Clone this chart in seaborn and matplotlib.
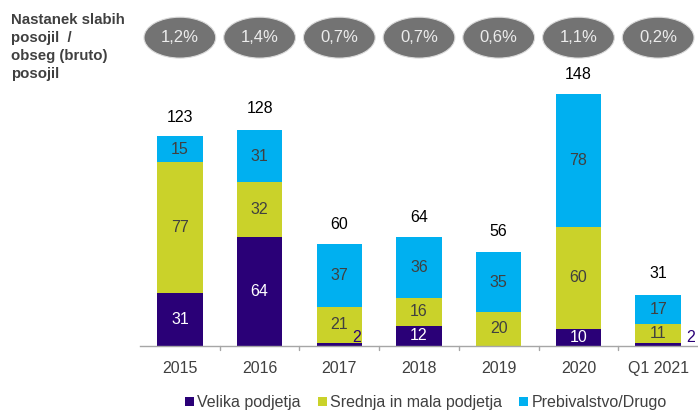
import numpy as np
import pandas as pd
import matplotlib
matplotlib.use("Agg")
import matplotlib.pyplot as plt
import seaborn as sns
from matplotlib.patches import Ellipse, Patch

# ── Data ──────────────────────────────────────────────────────────────────
periods = ["2015", "2016", "2017", "2018", "2019", "2020", "Q1 2021"]
velika = [31, 64, 2, 12, 0, 10, 2]
srednja = [77, 32, 21, 16, 20, 60, 11]
prebivalstvo = [15, 31, 37, 36, 35, 78, 17]
totals = [123, 128, 60, 64, 56, 148, 31]
ratios = ["1,2%", "1,4%", "0,7%", "0,7%", "0,6%", "1,1%", "0,2%"]

series_names = ["Velika podjetja", "Srednja in mala podjetja", "Prebivalstvo/Drugo"]
colors = ["#2a0077", "#cad22a", "#00b0f0"]

sns.set_theme(style="white")
plt.rcParams["font.family"] = ["Liberation Sans", "DejaVu Sans"]

df = pd.DataFrame({
    "period": periods,
    series_names[0]: velika,
    series_names[1]: srednja,
    series_names[2]: prebivalstvo,
})

fig = plt.figure(figsize=(6.98, 4.13), dpi=100)
ax = fig.add_axes([0.2006, 0.1622, 0.7994, 0.6683])

# stacked bars via seaborn, layer by layer (cumulative heights drawn back to front)
cum = df[series_names].cumsum(axis=1)
for name, col in reversed(list(zip(series_names, colors))):
    sns.barplot(x=df["period"], y=cum[name], color=col, width=0.57,
                saturation=1, ax=ax, edgecolor="none")

x = np.arange(len(periods))
bottoms = np.zeros(len(periods))
for i, name in enumerate(series_names):
    vals = df[name].values
    for j, v in enumerate(vals):
        if v >= 5:
            tc = "white" if i == 0 else "#404040"
            ax.text(x[j], bottoms[j] + v / 2, str(v), ha="center", va="center",
                    fontsize=11.5, color=tc)
    bottoms += vals

# small values next to the bars
ax.text(x[2] + 0.22, 5, "2", ha="center", va="center", fontsize=11.5, color="#2a0077")
ax.text(x[6] + 0.41, 5, "2", ha="center", va="center", fontsize=11.5, color="#2a0077")

# totals
for j, t in enumerate(totals):
    ax.text(x[j], t + 7, str(t), ha="center", va="bottom", fontsize=11.5, color="black")

# ratio ellipses above the plot
for j, r in enumerate(ratios):
    e = Ellipse((x[j], 181), 0.9, 24, facecolor="#737373", edgecolor="#d9d9d9",
                linewidth=0.8, clip_on=False, zorder=5)
    ax.add_patch(e)
    ax.text(x[j], 181, r, ha="center", va="center", fontsize=12,
            color="#ececec", zorder=6, clip_on=False)

fig.text(0.016, 0.968, "Nastanek slabih\nposojil  /\nobseg (bruto)\nposojil",
         ha="left", va="top", fontsize=10.8, fontweight="bold", color="#404040",
         linespacing=1.36)

ax.set_xlim(-0.5, 6.5)
ax.set_ylim(0, 162)
ax.set_xlabel("")
ax.set_ylabel("")
ax.set_yticks([])
for s in ["top", "right", "left"]:
    ax.spines[s].set_visible(False)
ax.spines["bottom"].set_color("#a6a6a6")
ax.spines["bottom"].set_linewidth(1)
ax.set_xticks(x)
ax.set_xticklabels(periods, fontsize=11.5, color="#404040")
ax.tick_params(axis="x", length=0, pad=11)
# tick marks between categories
for b in np.arange(0.5, 6.5, 1):
    ax.plot([b, b], [0, -2.5], color="#a6a6a6", lw=1, clip_on=False)

handles = [Patch(facecolor=c, edgecolor="none", label=n) for n, c in zip(series_names, colors)]
fig.legend(handles=handles, loc="lower center", bbox_to_anchor=(0.61, -0.028), ncol=3,
           frameon=False, fontsize=11.5, handlelength=0.55, handleheight=0.55,
           handletextpad=0.2, columnspacing=1.1, labelcolor="#404040")

fig.savefig("out.png", dpi=100)
